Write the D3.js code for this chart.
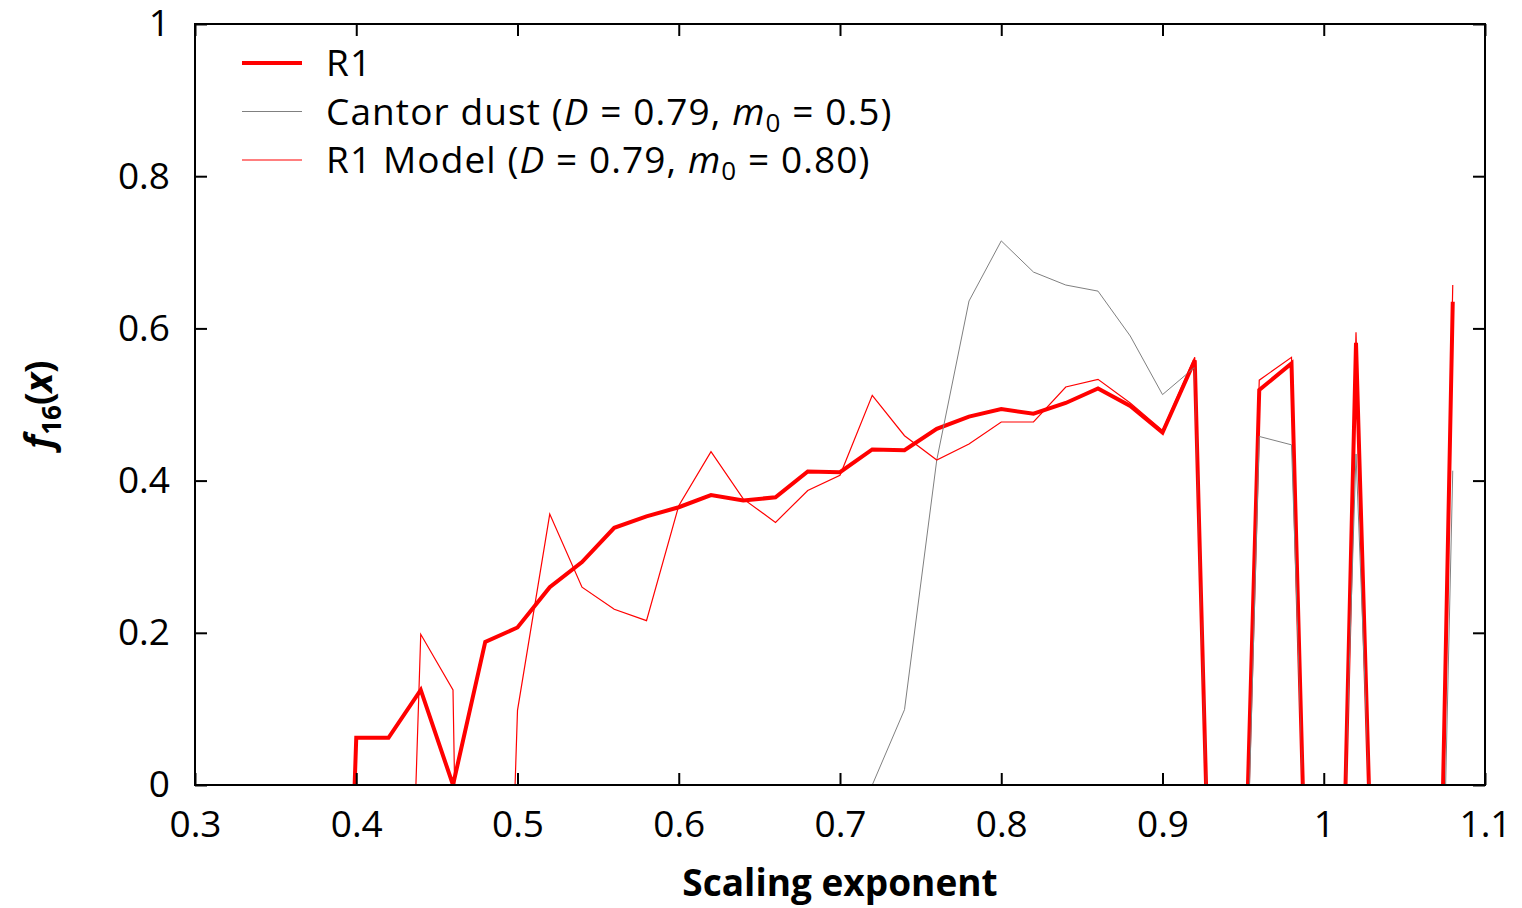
<!DOCTYPE html>
<html>
<head>
<meta charset="utf-8">
<script src="https://cdn.jsdelivr.net/npm/d3@7"></script>
<style>
  body { margin: 0; background: #fff; }
  text { font-family: "Open Sans", "Noto Sans", sans-serif; fill: #000; }
</style>
</head>
<body>
<div id="chart"></div>
<script>
// R1 measured curve (null = gap where curve goes below the axis)
const r1X = [0.399, 0.40, 0.42, 0.44, 0.46, 0.48, 0.50, 0.52, 0.54, 0.56, 0.58, 0.60, 0.62, 0.64, 0.66, 0.68, 0.70, 0.72, 0.74, 0.76, 0.78, 0.80, 0.82, 0.84, 0.86, 0.88, 0.90, 0.92, 0.927, 0.94, 0.953, 0.96, 0.98, 0.987, 1.00, 1.0135, 1.02, 1.028, 1.05, 1.074, 1.08];
const r1Y = [0, 0.062, 0.062, 0.125, 0, 0.188, 0.207, 0.26, 0.293, 0.338, 0.353, 0.365, 0.381, 0.374, 0.378, 0.412, 0.411, 0.441, 0.44, 0.468, 0.484, 0.494, 0.488, 0.502, 0.521, 0.498, 0.463, 0.558, 0, null, 0, 0.519, 0.554, 0, null, 0, 0.581, 0, null, 0, 0.635];

// Cantor dust (D = 0.79, m0 = 0.5)
const cantorX = [0.72, 0.74, 0.76, 0.78, 0.80, 0.82, 0.84, 0.86, 0.88, 0.90, 0.92, 0.927, 0.94, 0.954, 0.96, 0.98, 0.987, 1.00, 1.0135, 1.02, 1.028, 1.05, 1.0756, 1.08];
const cantorY = [0, 0.099, 0.427, 0.636, 0.715, 0.674, 0.657, 0.649, 0.59, 0.513, 0.549, 0, null, 0, 0.458, 0.447, 0, null, 0, 0.435, 0, null, 0, 0.413];

// R1 Model (D = 0.79, m0 = 0.80)
const modelX = [0.437, 0.44, 0.46, 0.461, 0.48, 0.4985, 0.50, 0.52, 0.54, 0.56, 0.58, 0.60, 0.62, 0.64, 0.66, 0.68, 0.70, 0.72, 0.74, 0.76, 0.78, 0.80, 0.82, 0.84, 0.86, 0.88, 0.90, 0.92, 0.927, 0.94, 0.953, 0.96, 0.98, 0.987, 1.00, 1.0135, 1.02, 1.028, 1.05, 1.074, 1.08];
const modelY = [0, 0.198, 0.125, 0, null, 0, 0.098, 0.356, 0.26, 0.231, 0.216, 0.367, 0.438, 0.376, 0.345, 0.387, 0.407, 0.512, 0.459, 0.427, 0.448, 0.477, 0.477, 0.523, 0.533, 0.502, 0.466, 0.562, 0, null, 0, 0.532, 0.562, 0, null, 0, 0.595, 0, null, 0, 0.657];

const xTicks = [0.3, 0.4, 0.5, 0.6, 0.7, 0.8, 0.9, 1.0, 1.1];
const yTicks = [0, 0.2, 0.4, 0.6, 0.8, 1];

const width = 1522;
const height = 908;
const margin = { top: 24, right: 37, bottom: 123, left: 195 };
const fontSize = 37;

const svg = d3.select('#chart')
  .append('svg')
  .attr('width', width)
  .attr('height', height);

const x = d3.scaleLinear()
  .domain([0.3, 1.1])
  .range([margin.left, width - margin.right]);

const y = d3.scaleLinear()
  .domain([0, 1])
  .range([height - margin.bottom, margin.top]);

svg.append('clipPath').attr('id', 'plot-clip')
  .append('rect')
  .attr('x', margin.left).attr('y', margin.top)
  .attr('width', x(1.1) - x(0.3)).attr('height', y(0) - y(1));

const series = [
  { name: 'R1', xs: r1X, ys: r1Y, color: '#ff0000', w: 4 },
  { name: 'Cantor', xs: cantorX, ys: cantorY, color: '#808080', w: 1 },
  { name: 'Model', xs: modelX, ys: modelY, color: '#ff0000', w: 1.2 }
];

const line = d3.line()
  .defined(d => d[1] !== null)
  .x(d => x(d[0]))
  .y(d => y(d[1]));

const plot = svg.append('g').attr('clip-path', 'url(#plot-clip)');
series.forEach(s => {
  plot.append('path')
    .datum(s.xs.map((v, i) => [v, s.ys[i]]))
    .attr('fill', 'none')
    .attr('stroke', s.color)
    .attr('stroke-width', s.w)
    .attr('stroke-linejoin', 'miter')
    .attr('d', line);
});

// axes with inward ticks on all sides
const tickLen = 12;
function bottomAxis(g) {
  g.attr('transform', `translate(0,${y(0)})`)
    .call(d3.axisBottom(x).tickValues(xTicks).tickSizeInner(-tickLen).tickSizeOuter(0).tickPadding(26)
      .tickFormat(d => d3.format('~g')(d)));
}
function topAxis(g) {
  g.attr('transform', `translate(0,${y(1)})`)
    .call(d3.axisTop(x).tickValues(xTicks).tickSizeInner(-tickLen).tickSizeOuter(0).tickFormat(''));
}
function leftAxis(g) {
  g.attr('transform', `translate(${x(0.3)},0)`)
    .call(d3.axisLeft(y).tickValues(yTicks).tickSizeInner(-tickLen).tickSizeOuter(0).tickPadding(25)
      .tickFormat(d => d3.format('~g')(d)));
}
function rightAxis(g) {
  g.attr('transform', `translate(${x(1.1)},0)`)
    .call(d3.axisRight(y).tickValues(yTicks).tickSizeInner(-tickLen).tickSizeOuter(0).tickFormat(''));
}
[bottomAxis, topAxis, leftAxis, rightAxis].forEach(fn => {
  const g = svg.append('g').call(fn);
  g.select('.domain').remove();
  g.selectAll('line').attr('stroke', '#000').attr('stroke-width', 2);
  g.selectAll('text').attr('font-size', fontSize).attr('font-family', '"Open Sans", sans-serif').attr('fill', '#000');
});

// frame
svg.append('rect')
  .attr('x', x(0.3)).attr('y', y(1))
  .attr('width', x(1.1) - x(0.3)).attr('height', y(0) - y(1))
  .attr('fill', 'none').attr('stroke', '#000').attr('stroke-width', 2);

// axis titles
svg.append('text')
  .attr('x', (x(0.3) + x(1.1)) / 2)
  .attr('y', 896)
  .attr('text-anchor', 'middle')
  .attr('font-size', fontSize)
  .attr('font-weight', 'bold')
  .text('Scaling exponent');

const yl = svg.append('text')
  .attr('transform', `translate(52,${(y(0) + y(1)) / 2}) rotate(-90)`)
  .attr('text-anchor', 'middle')
  .attr('font-size', fontSize)
  .attr('font-weight', 'bold');
yl.append('tspan').attr('font-style', 'italic').text('f');
yl.append('tspan').attr('font-size', 26).attr('dy', 9).text('16');
yl.append('tspan').attr('dy', -9).text('(');
yl.append('tspan').attr('font-style', 'italic').text('x');
yl.append('tspan').text(')');

// legend
const legend = svg.append('g');
const legendItems = [
  { s: series[0], parts: [['R1']] },
  { s: series[1], parts: [['Cantor dust ('], ['D', 'i'], [' = 0.79, '], ['m', 'i'], ['0', 'sub'], [' = 0.5)']] },
  { s: series[2], parts: [['R1 Model ('], ['D', 'i'], [' = 0.79, '], ['m', 'i'], ['0', 'sub'], [' = 0.80)']] }
];
legendItems.forEach((it, i) => {
  const ly = 63 + i * 48.5;
  legend.append('line')
    .attr('x1', 242).attr('x2', 302)
    .attr('y1', ly).attr('y2', ly)
    .attr('stroke', it.s.color)
    .attr('stroke-width', it.s.w);
  const t = legend.append('text')
    .attr('x', 326).attr('y', ly + 13)
    .attr('font-size', fontSize)
    .attr('letter-spacing', 1.1);
  let shifted = false;
  it.parts.forEach(p => {
    const sp = t.append('tspan').text(p[0]);
    if (shifted) { sp.attr('dy', -7); shifted = false; }
    if (p[1] === 'i') sp.attr('font-style', 'italic');
    if (p[1] === 'sub') { sp.attr('dy', 7).attr('font-size', 26); shifted = true; }
  });
});
</script>
</body>
</html>
